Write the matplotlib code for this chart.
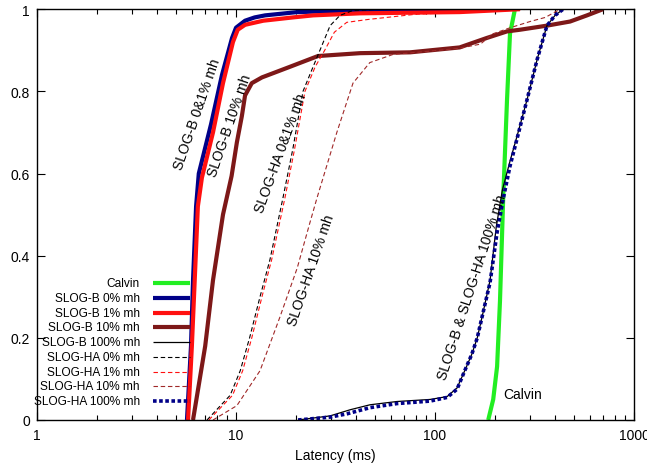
import matplotlib
matplotlib.use('Agg')
import matplotlib.pyplot as plt
from matplotlib.ticker import LogLocator, NullFormatter, FixedLocator, FixedFormatter

plt.rcParams['font.family'] = ['Liberation Sans', 'DejaVu Sans']

# latency (ms) / cumulative fraction
calvin_x = [185, 196, 205, 212, 220, 230, 238, 252]
calvin_y = [0.0, 0.05, 0.13, 0.29, 0.54, 0.78, 0.94, 1.0]

b0_x = [5.67, 5.94, 6.08, 6.3, 6.5, 7.49, 8.5, 9.55, 10.0, 11.1, 12.4, 14, 20.3, 42, 150]
b0_y = [0.0, 0.18, 0.34, 0.52, 0.6, 0.72, 0.84, 0.93, 0.955, 0.972, 0.98, 0.985, 0.993, 0.997, 1.0]

b1_x = [5.74, 6.0, 6.2, 6.43, 6.74, 7.66, 8.6, 9.65, 10.2, 11.1, 13.7, 19.3, 24.4, 42, 133, 267]
b1_y = [0.0, 0.18, 0.34, 0.52, 0.59, 0.70, 0.82, 0.92, 0.95, 0.962, 0.972, 0.98, 0.985, 0.99, 0.993, 1.0]

b10_x = [6.08, 7.0, 7.66, 8.6, 9.5, 10.1, 10.7, 11.1, 12.0, 13.5, 15.5, 18.7, 25.8, 42, 74.9, 133, 182, 230, 267, 365, 477, 580, 698]
b10_y = [0.0, 0.18, 0.34, 0.50, 0.594, 0.676, 0.74, 0.79, 0.82, 0.834, 0.845, 0.86, 0.886, 0.893, 0.895, 0.907, 0.93, 0.946, 0.95, 0.96, 0.97, 0.985, 1.0]

b100_x = [20.5, 29.7, 37.5, 47.1, 64.4, 94.4, 115, 129, 141, 153, 163, 174, 189, 203, 218, 238, 258, 290, 326, 365, 401, 440]
b100_y = [0.0, 0.01, 0.025, 0.037, 0.045, 0.05, 0.057, 0.078, 0.12, 0.16, 0.2, 0.26, 0.34, 0.47, 0.56, 0.63, 0.69, 0.78, 0.878, 0.96, 0.985, 1.0]

ha0_x = [7.15, 9.34, 10.5, 11.7, 13.2, 14.8, 17.2, 19.3, 21.7, 24.4, 26.4, 29.7, 33.3, 38.7, 52.9]
ha0_y = [0.0, 0.06, 0.12, 0.2, 0.3, 0.39, 0.54, 0.66, 0.8, 0.86, 0.9, 0.96, 0.985, 0.997, 1.0]

ha1_x = [7.3, 9.6, 10.8, 12.0, 13.5, 15.1, 17.6, 19.7, 22.2, 25.0, 27.9, 31.2, 36.0, 46.0, 81.0, 150, 300]
ha1_y = [0.0, 0.06, 0.12, 0.2, 0.3, 0.39, 0.54, 0.66, 0.8, 0.86, 0.9, 0.944, 0.968, 0.975, 0.988, 0.993, 1.0]

ha10_x = [7.66, 10.1, 13.2, 16.6, 20.3, 23.5, 25.5, 32.1, 38.7, 47, 61.6, 94.4, 133, 169, 195, 239, 300, 358, 425]
ha10_y = [0.0, 0.035, 0.12, 0.25, 0.37, 0.48, 0.54, 0.70, 0.82, 0.87, 0.89, 0.898, 0.905, 0.915, 0.94, 0.955, 0.97, 0.98, 1.0]

ha100_x = [20.5, 29.7, 36.1, 47.1, 64.4, 94.4, 115, 129, 141, 153, 163, 174, 189, 205, 220, 238, 258, 290, 326, 365, 401, 440]
ha100_y = [0.0, 0.007, 0.015, 0.03, 0.04, 0.046, 0.055, 0.075, 0.12, 0.16, 0.2, 0.26, 0.335, 0.457, 0.538, 0.618, 0.684, 0.78, 0.878, 0.96, 0.985, 1.0]

labels = ['Calvin', 'SLOG-B 0% mh', 'SLOG-B 1% mh', 'SLOG-B 10% mh', 'SLOG-B 100% mh',
          'SLOG-HA 0% mh', 'SLOG-HA 1% mh', 'SLOG-HA 10% mh', 'SLOG-HA 100% mh']

green = '#22ee22'
navy = '#000088'
red = '#ff1010'
dred = '#7d1818'
dred2 = '#a02828'

styles = [
    dict(color=green, lw=3.0, ls='-'),
    dict(color=navy, lw=3.0, ls='-'),
    dict(color=red, lw=3.0, ls='-'),
    dict(color=dred, lw=3.0, ls='-'),
    dict(color='black', lw=0.9, ls='-'),
    dict(color='black', lw=0.8, ls=(0, (4, 2.5))),
    dict(color=red, lw=0.8, ls=(0, (4, 2.5))),
    dict(color=dred2, lw=0.8, ls=(0, (4, 2.5))),
    dict(color=navy, lw=2.6, ls=(0, (1, 0.7))),
]
series = [(calvin_x, calvin_y), (b0_x, b0_y), (b1_x, b1_y), (b10_x, b10_y), (b100_x, b100_y),
          (ha0_x, ha0_y), (ha1_x, ha1_y), (ha10_x, ha10_y), (ha100_x, ha100_y)]

fig = plt.figure(figsize=(6.47, 4.64), dpi=100)
ax = fig.add_axes([0.0572, 0.0927, 0.9228, 0.8853])

for (x, y), st in zip(series, styles):
    ax.plot(x, y, color=st['color'], lw=st['lw'], ls=st['ls'], solid_capstyle='butt',
            dash_capstyle='butt', solid_joinstyle='round')

ax.set_xscale('log')
ax.set_xlim(1, 1000)
ax.set_ylim(0, 1)
ax.xaxis.set_major_locator(FixedLocator([1, 10, 100, 1000]))
ax.xaxis.set_major_formatter(FixedFormatter(['1', '10', '100', '1000']))
ax.xaxis.set_minor_locator(LogLocator(base=10, subs=range(2, 10)))
ax.xaxis.set_minor_formatter(NullFormatter())
ax.set_yticks([0, 0.2, 0.4, 0.6, 0.8, 1.0])
ax.set_yticklabels(['0', '0.2', '0.4', '0.6', '0.8', '1'])
ax.tick_params(which='major', direction='in', length=6, width=0.8, top=True, right=True, labelsize=10)
ax.tick_params(which='minor', direction='in', length=3.5, width=0.8, top=True, right=True)
ax.tick_params(axis='x', pad=6)
ax.tick_params(axis='y', pad=5)
for s in ax.spines.values():
    s.set_linewidth(1.0)
ax.set_xlabel('Latency (ms)', fontsize=10, labelpad=4)

# curve annotations
ax.text(6.37, 0.747, 'SLOG-B 0&1% mh', rotation=71, ha='center', va='center', fontsize=10)
ax.text(9.34, 0.718, 'SLOG-B 10% mh', rotation=71, ha='center', va='center', fontsize=10)
ax.text(16.8, 0.652, 'SLOG-HA 0&1% mh', rotation=70, ha='center', va='center', fontsize=10)
ax.text(23.8, 0.367, 'SLOG-HA 10% mh', rotation=71, ha='center', va='center', fontsize=10)
ax.text(153, 0.326, 'SLOG-B & SLOG-HA 100% mh', rotation=72, ha='center', va='center', fontsize=10)
ax.text(220, 0.063, 'Calvin', ha='left', va='center', fontsize=10)

# legend drawn gnuplot style: right-aligned text, sample to the right
tr = ax.transAxes
y0 = 0.333
dy = 0.0359
for i, (lab, st) in enumerate(zip(labels, styles)):
    yy = y0 - i * dy
    ax.text(0.1725, yy, lab, transform=tr, ha='right', va='center', fontsize=8.6)
    ax.plot([0.194, 0.256], [yy, yy], transform=tr, color=st['color'], lw=st['lw'], ls=st['ls'],
            solid_capstyle='butt', dash_capstyle='butt')

fig.savefig('out.png', dpi=100)
